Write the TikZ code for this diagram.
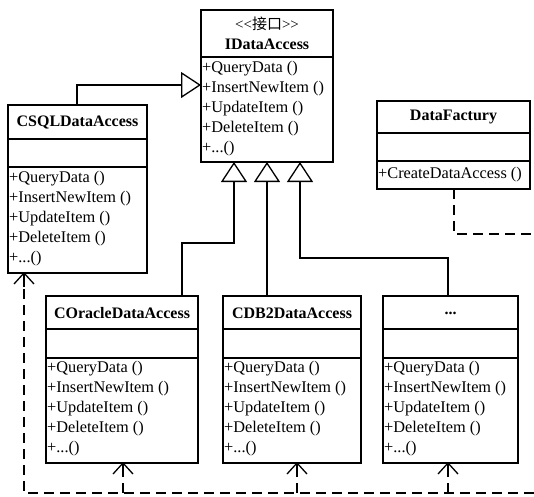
\documentclass[tikz,border=0pt]{standalone}
\usepackage{fontspec}
\setmainfont{Liberation Serif}
\newfontfamily\cjk{Noto Sans CJK SC}
\usetikzlibrary{arrows.meta}
\newcommand\tdots{...}
\tikzset{
 cls/.style={draw, line width=1.6pt, inner sep=0pt, outer sep=0pt, anchor=north west, fill=white},
 dv/.style={line width=1.6pt},
 mt/.style={anchor=west, inner sep=0pt, font=\fontsize{16.3}{18}\selectfont},
 ttl/.style={inner sep=0pt, font=\fontsize{16}{18}\selectfont\bfseries},
 gen/.style={line width=1.3pt, -{Triangle[open, length=20pt, width=26pt, line width=1.3pt]}},
 vhead/.style={line width=1.3pt},
 dline/.style={line width=1.3pt, dash pattern=on 10pt off 6pt},
}
\begin{document}
\begin{tikzpicture}[x=1pt,y=-1pt]
\useasboundingbox[fill=white] (0,0) rectangle (534,496);

% IDataAccess
\node[cls, minimum width=132pt, minimum height=152pt] (ida) at (201,10) {};
\draw[dv] (201,57) -- (333,57);
\node[inner sep=0pt, font=\fontsize{15}{16}\selectfont] (idast) at (267,24) {<\kern0pt<{\cjk 接口}>\kern0pt>};
\node[ttl] (idat) at (267,44) {IDataAccess};
\foreach \t [count=\i] in {+QueryData (),+InsertNewItem (),+UpdateItem (),+DeleteItem (),+\tdots()}
  \node[mt] (idam\i) at (202,{49+20*\i}) {\t};

% CSQLDataAccess
\node[cls, minimum width=139pt, minimum height=168pt] (sql) at (8,105) {};
\draw[dv] (8,139) -- (147,139);
\draw[dv] (8,167) -- (147,167);
\node[ttl] (sqlt) at (77.5,122) {CSQLDataAccess};
\foreach \t [count=\i] in {+QueryData (),+InsertNewItem (),+UpdateItem (),+DeleteItem (),+\tdots()}
  \node[mt] (sqlm\i) at (9,{159+20*\i}) {\t};

% DataFactory
\node[cls, minimum width=153pt, minimum height=88pt] (fac) at (377,101) {};
\draw[dv] (377,133) -- (530,133);
\draw[dv] (377,161) -- (530,161);
\node[ttl] (fact) at (453.5,117) {DataFactury};
\node[mt] (facm) at (378,175) {+CreateDataAccess ()};

% COracleDataAccess
\node[cls, minimum width=152pt, minimum height=167pt] (ora) at (46,296) {};
\draw[dv] (46,329) -- (198,329);
\draw[dv] (46,358) -- (198,358);
\node[ttl] (orat) at (122,313) {COracleDataAccess};
\foreach \t [count=\i] in {+QueryData (),+InsertNewItem (),+UpdateItem (),+DeleteItem (),+\tdots()}
  \node[mt] (oram\i) at (47,{349+20*\i}) {\t};

% CDB2DataAccess
\node[cls, minimum width=138pt, minimum height=167pt] (db2) at (223,296) {};
\draw[dv] (223,329) -- (361,329);
\draw[dv] (223,358) -- (361,358);
\node[ttl] (db2t) at (292,313) {CDB2DataAccess};
\foreach \t [count=\i] in {+QueryData (),+InsertNewItem (),+UpdateItem (),+DeleteItem (),+\tdots()}
  \node[mt] (db2m\i) at (224,{349+20*\i}) {\t};

% ...
\node[cls, minimum width=135pt, minimum height=167pt] (oth) at (383,296) {};
\draw[dv] (383,329) -- (518,329);
\draw[dv] (383,358) -- (518,358);
\node[ttl] (otht) at (450.5,313) {\tdots};
\foreach \t [count=\i] in {+QueryData (),+InsertNewItem (),+UpdateItem (),+DeleteItem (),+\tdots()}
  \node[mt] (othm\i) at (384,{349+20*\i}) {\t};

% generalisation
\draw[gen] (sql.north -| 77,0) -- (77,85) -- (ida.west |- 0,85);
\draw[gen] (ora.north -| 182,0) -- (182,243) -- (234,243) -- (ida.south -| 234,0);
\draw[gen] (db2.north -| 267,0) -- (ida.south -| 267,0);
\draw[gen] (oth.north -| 448,0) -- (448,258) -- (300,258) -- (ida.south -| 300,0);

% dependencies
\coordinate (bl) at (24,493);
\coordinate (br) at (534,493);
\coordinate (fr) at (534,234);
\coordinate (a0) at (sql.south -| bl);
\coordinate (a1) at (ora.south -| 123,0);
\coordinate (a2) at (db2.south -| 297,0);
\coordinate (a3) at (oth.south -| 448,0);
\draw[dline] (fac.south -| 454,0) -- (454,234) -- (fr);
\draw[dline] (a0) -- (bl) -- (br);
\draw[dline] (bl -| a1) -- (a1);
\draw[dline] (bl -| a2) -- (a2);
\draw[dline] (bl -| a3) -- (a3);
\foreach \a in {a0,a1,a2,a3}{
  \draw[vhead] ([xshift=-10pt,yshift=-11pt]\a) -- (\a) -- ([xshift=10pt,yshift=-11pt]\a);
  \draw[vhead] (\a) -- ([yshift=-14pt]\a);
}
\end{tikzpicture}
\end{document}
